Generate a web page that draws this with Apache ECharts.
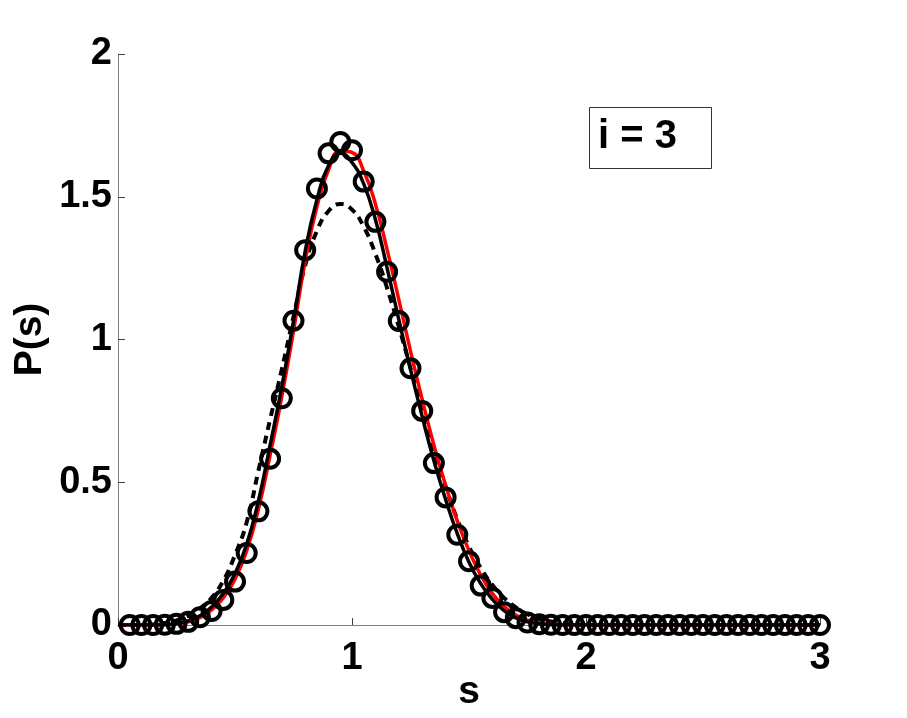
<!DOCTYPE html>
<html>
<head>
<meta charset="utf-8">
<script src="https://cdn.jsdelivr.net/npm/echarts@6/dist/echarts.min.js"></script>
<style>
html,body{margin:0;padding:0;background:#fff;overflow:hidden;}
#c{width:907px;height:718px;}
</style>
</head>
<body>
<div id="c"></div>
<script>
// s grid for curves (0 .. 3, step 0.05)
const curveS = [0,0.05,0.1,0.15,0.2,0.25,0.3,0.35,0.4,0.45,0.5,0.55,0.6,0.65,0.7,0.75,0.8,0.85,0.9,0.95,
  1.0,1.05,1.1,1.15,1.2,1.25,1.3,1.35,1.4,1.45,1.5,1.55,1.6,1.65,1.7,1.75,1.8,1.85,1.9,1.95,
  2.0,2.05,2.1,2.15,2.2,2.25,2.3,2.35,2.4,2.45,2.5,2.55,2.6,2.65,2.7,2.75,2.8,2.85,2.9,2.95,3.0];

// solid black curve
const solidBlack = [0,0,0,0,0.001,0.005,0.014,0.032,0.063,0.11,0.18,0.283,0.435,0.63,0.835,1.065,1.31,1.49,1.61,1.652,
  1.62,1.545,1.42,1.25,1.07,0.895,0.73,0.575,0.44,0.32,0.22,0.145,0.09,0.05,0.025,0.011,0.004,0.001,0,0,
  0,0,0,0,0,0,0,0,0,0,0,0,0,0,0,0,0,0,0,0,0];

// solid red curve
const solidRed = [0,0,0,0,0.001,0.004,0.011,0.026,0.053,0.095,0.16,0.26,0.405,0.595,0.80,1.03,1.275,1.465,1.595,1.66,
  1.655,1.59,1.475,1.315,1.14,0.96,0.79,0.63,0.49,0.365,0.26,0.175,0.11,0.065,0.035,0.017,0.007,0.002,0,0,
  0,0,0,0,0,0,0,0,0,0,0,0,0,0,0,0,0,0,0,0,0];

// dashed black curve
const dashedBlack = [0,0,0,0.002,0.007,0.016,0.032,0.058,0.095,0.155,0.245,0.36,0.54,0.72,0.895,1.08,1.26,1.38,1.45,1.475,
  1.455,1.395,1.30,1.18,1.045,0.90,0.755,0.615,0.485,0.37,0.275,0.2,0.14,0.095,0.062,0.038,0.022,0.012,0.006,0.003,
  0.001,0,0,0,0,0,0,0,0,0,0,0,0,0,0,0,0,0,0,0,0];

// circle markers (s = 0.05 .. 3.0)
const markerS = [0.05,0.1,0.15,0.2,0.25,0.3,0.35,0.4,0.45,0.5,0.55,0.6,0.65,0.7,0.75,0.8,0.85,0.9,0.95,
  1.0,1.05,1.1,1.15,1.2,1.25,1.3,1.35,1.4,1.45,1.5,1.55,1.6,1.65,1.7,1.75,1.8,1.85,1.9,1.95,
  2.0,2.05,2.1,2.15,2.2,2.25,2.3,2.35,2.4,2.45,2.5,2.55,2.6,2.65,2.7,2.75,2.8,2.85,2.9,2.95,3.0];
const markerP = [0,0,0,0.001,0.004,0.011,0.027,0.049,0.088,0.152,0.252,0.398,0.582,0.794,1.066,1.313,1.529,1.652,1.692,
  1.663,1.553,1.412,1.237,1.065,0.899,0.75,0.567,0.447,0.316,0.223,0.138,0.095,0.045,0.024,0.009,0.003,0.001,0,0,
  0,0,0,0,0,0,0,0,0,0,0,0,0,0,0,0,0,0,0,0,0];

const xTicks = [0,1,2,3];
const yTicks = [0,0.5,1,1.5,2];
const boxLabel = 'i = 3';

function pairs(xs, ys){ return xs.map((x,i)=>[x, ys[i]]); }

const FONT = '"Liberation Sans", Arial, Helvetica, sans-serif';
const chart = echarts.init(document.getElementById('c'), null, {renderer:'canvas'});
chart.setOption({
  animation:false,
  backgroundColor:'#fff',
  grid:{left:118, right:87, top:54, bottom:93, containLabel:false, outerBoundsMode:'none'},
  xAxis:{
    type:'value', min:xTicks[0], max:xTicks[xTicks.length-1], interval:1,
    name:'s', nameLocation:'middle', nameGap:48, nameMoveOverlap:false,
    nameTextStyle:{fontFamily:FONT, fontWeight:'bold', fontSize:39, color:'#000'},
    axisLine:{show:true, onZero:false, lineStyle:{color:'#808080', width:1}},
    axisTick:{show:true, inside:true, length:7, lineStyle:{color:'#404040', width:1}},
    axisLabel:{fontFamily:FONT, fontWeight:'bold', fontSize:38, color:'#000', margin:15},
    splitLine:{show:false}
  },
  yAxis:{
    type:'value', min:yTicks[0], max:yTicks[yTicks.length-1], interval:0.5,
    name:'P(s)', nameLocation:'middle', nameGap:68, nameRotate:90, nameMoveOverlap:false,
    nameTextStyle:{fontFamily:FONT, fontWeight:'bold', fontSize:39, color:'#000'},
    axisLine:{show:true, onZero:false, lineStyle:{color:'#808080', width:1}},
    axisTick:{show:true, inside:true, length:7, lineStyle:{color:'#404040', width:1}},
    axisLabel:{fontFamily:FONT, fontWeight:'bold', fontSize:38, color:'#000', margin:6},
    splitLine:{show:false}
  },
  series:[
    {type:'line', data:pairs(curveS, dashedBlack), showSymbol:false, smooth:0.5,
      lineStyle:{color:'#000', width:4, type:[8,6]}, z:2, silent:true},
    {type:'line', data:pairs(curveS, solidRed), showSymbol:false, smooth:0.5,
      lineStyle:{color:'#ff0000', width:3.5}, z:3, silent:true},
    {type:'line', data:pairs(curveS, solidBlack), showSymbol:false, smooth:0.5,
      lineStyle:{color:'#000', width:3.5}, z:4, silent:true},
    {type:'scatter', data:pairs(markerS, markerP), symbol:'circle', symbolSize:18,
      itemStyle:{color:'rgba(0,0,0,0)', borderColor:'#000', borderWidth:4, opacity:1}, z:5, silent:true}
  ],
  graphic:[
    {type:'rect', shape:{x:589.5, y:107.5, width:122, height:61},
      style:{fill:'#fff', stroke:'#333', lineWidth:1}, z:10},
    {type:'text', x:598, y:137, z:11,
      style:{text:boxLabel, fontFamily:FONT, fontWeight:'bold', fontSize:40, fill:'#000', verticalAlign:'middle', align:'left'}}
  ]
});
</script>
</body>
</html>
